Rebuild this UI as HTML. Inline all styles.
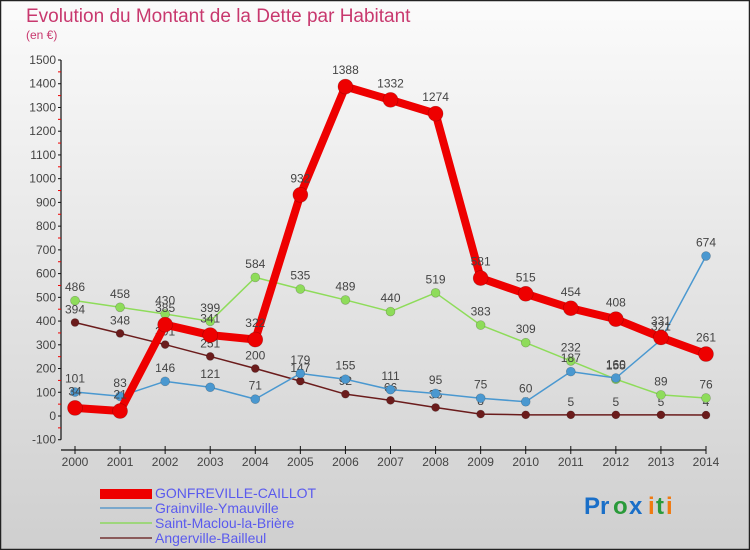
<!DOCTYPE html>
<html><head><meta charset="utf-8"><style>
body{margin:0;}
svg{display:block;font-family:"Liberation Sans",sans-serif;}
</style></head><body>
<svg id="chart" width="750" height="550" viewBox="0 0 750 550">
<defs><linearGradient id="bg" x1="0" y1="0" x2="0" y2="1"><stop offset="0" stop-color="#fbfbfb"/><stop offset="1" stop-color="#cfcfcf"/></linearGradient></defs>
<rect x="0.5" y="0.5" width="749" height="549" fill="url(#bg)" stroke="#222" stroke-width="1.5"/>
<text x="26" y="22" font-size="19" fill="#c8386e">Evolution du Montant de la Dette par Habitant</text>
<text x="26" y="39" font-size="12" fill="#c8386e">(en €)</text>
<g id="axes"></g>
<g id="series"></g>
<g>
<rect x="100" y="489" width="52" height="10" fill="#e00"/>
<text x="155" y="498" font-size="14" fill="#5a5aee">GONFREVILLE-CAILLOT</text>
<rect x="100" y="507" width="52" height="2" fill="#7aa8cc"/>
<text x="155" y="513" font-size="14" fill="#5a5aee">Grainville-Ymauville</text>
<rect x="100" y="522" width="52" height="2" fill="#9ed67c"/>
<text x="155" y="528" font-size="14" fill="#5a5aee">Saint-Maclou-la-Brière</text>
<rect x="100" y="537" width="52" height="2" fill="#8a5a5a"/>
<text x="155" y="543" font-size="14" fill="#5a5aee">Angerville-Bailleul</text>
</g>
<g font-size="24" font-weight="bold">
<text x="584" y="514" fill="#1a6fc8">Pr</text><text x="613" y="514" fill="#2a9a3a">o</text><text x="629" y="514" fill="#1a6fc8">x</text><text x="648" y="514" fill="#f07a10">i</text><text x="656" y="514" fill="#2a9a3a">t</text><text x="666" y="514" fill="#f07a10">i</text>
</g>
</svg>
<script>
const years=[2000,2001,2002,2003,2004,2005,2006,2007,2008,2009,2010,2011,2012,2013,2014];
const gonfreville=[34,21,385,341,322,932,1388,1332,1274,581,515,454,408,331,261];
const grainville=[101,83,146,121,71,179,155,111,95,75,60,187,160,321,674];
const saintMaclou=[486,458,430,399,584,535,489,440,519,383,309,232,155,89,76];
const angerville=[394,348,301,251,200,147,92,66,36,8,5,5,5,5,4];
const yTicks=[-100,0,100,200,300,400,500,600,700,800,900,1000,1100,1200,1300,1400,1500];
const NS='http://www.w3.org/2000/svg';
function x(i){return 75+i*(706-75)/(years.length-1);}
function y(v){return 416-v*(416-60)/1500;}
function mk(t,a,p){const e=document.createElementNS(NS,t);for(const k in a)e.setAttribute(k,a[k]);p.appendChild(e);return e;}
const ax=document.getElementById('axes');
const yl=mk('line',{x1:61,y1:y(1500),x2:61,y2:y(-100),stroke:'#111','stroke-width':1.2},ax);


yTicks.forEach(v=>{
 mk('line',{x1:58,y1:y(v),x2:61,y2:y(v),stroke:'#111'},ax);
 mk('line',{x1:58,y1:y(v+50),x2:61,y2:y(v+50),stroke:'#e00'},ax).style.display=v<1500?'':'none';
 const t=mk('text',{x:56,y:y(v)+4,'text-anchor':'end','font-size':12,fill:'#444'},ax);t.textContent=v;
 
 
});
const xl=mk('line',{x1:61,y1:450,x2:706,y2:450,stroke:'#111','stroke-width':1.2},ax);


years.forEach((yr,i)=>{
 mk('line',{x1:x(i),y1:446,x2:x(i),y2:454,stroke:'#111'},ax);
 const t=mk('text',{x:x(i),y:466,'text-anchor':'middle','font-size':12,fill:'#444'},ax);t.textContent=yr;
 
 
});
const sg=document.getElementById('series');
function draw(vals,color,w,r,name){
 const g=mk('g',{},sg);
 
 
 mk('polyline',{points:vals.map((v,i)=>x(i)+','+y(v)).join(' '),fill:'none',stroke:color,'stroke-width':w,'stroke-linejoin':'round'},g);
 vals.forEach((v,i)=>{
  const c=mk('circle',{cx:x(i),cy:y(v),r:r,fill:color,stroke:'rgba(0,0,0,0.25)','stroke-width':0.6},g);
  
  
  const t=mk('text',{x:x(i),y:y(v)-r-5,'text-anchor':'middle','font-size':12,fill:'#444'},g);t.textContent=v;
  
  
 });
}
draw(angerville,'#6b1c1c',1.5,4,'angerville-series');
draw(saintMaclou,'#8edc5a',1.5,4.5,'saint-maclou-series');
draw(grainville,'#4a98d0',1.5,4.5,'grainville-series');
draw(gonfreville,'#ee0000',8,7.5,'gonfreville-series');
</script>
</body></html>
